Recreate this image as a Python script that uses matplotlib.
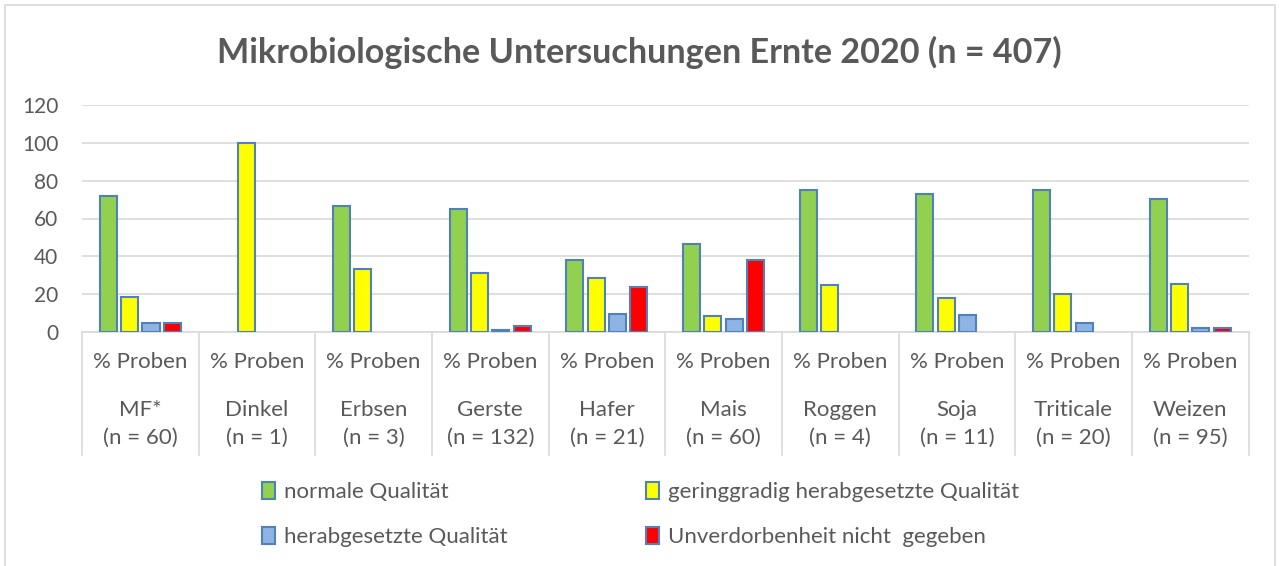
"""
Mikrobiologische Untersuchungen Ernte 2020 - grouped bars
"""
import numpy as np
import matplotlib.pyplot as plt
from matplotlib.patches import Patch, Rectangle
from matplotlib.transforms import blended_transform_factory

plt.rcParams['font.family'] = ['Lato', 'DejaVu Sans']

categories = ['MF*', 'Dinkel', 'Erbsen', 'Gerste', 'Hafer', 'Mais',
              'Roggen', 'Soja', 'Triticale', 'Weizen']
n_samples = [60, 1, 3, 132, 21, 60, 4, 11, 20, 95]
sub_label = '% Proben'

series_names = ['normale Qualität', 'geringgradig herabgesetzte Qualität',
                'herabgesetzte Qualität', 'Unverdorbenheit nicht  gegeben']
normal = [71.7, 0, 66.7, 65.2, 38.1, 46.7, 75.0, 72.7, 75.0, 70.5]
gering = [18.3, 100.0, 33.3, 31.1, 28.6, 8.3, 25.0, 18.2, 20.0, 25.3]
herab = [5.0, 0, 0, 0.8, 9.5, 6.7, 0, 9.1, 5.0, 2.1]
unverd = [5.0, 0, 0, 3.0, 23.8, 38.3, 0, 0, 0, 2.1]

colors = ['#92D050', '#FFFF00', '#8EB4E3', '#FF0000']
edge = '#4F81BD'
txt = '#595959'
grid = '#D9D9D9'

fig = plt.figure(figsize=(12.79, 5.66), dpi=100)
ax = fig.add_axes([82/1279, 1-332/566, (1248.5-82)/1279, 227/566])

x = np.arange(len(categories))
w = 0.146
step = 0.183
for k, vals in enumerate([normal, gering, herab, unverd]):
    vals = np.array(vals, dtype=float)
    keep = vals > 0  # empty cells are not drawn
    off = (k - 1.5) * step
    ax.bar(x[keep] + off, vals[keep], width=w, color=colors[k],
           edgecolor=edge, linewidth=1.5, zorder=3)

ax.set_xlim(-0.5, len(categories) - 0.5)
ax.set_ylim(0, 120)
ax.set_yticks(range(0, 121, 20))
ax.yaxis.grid(True, color=grid, linewidth=1.2, zorder=0)
ax.tick_params(axis='y', length=0, labelsize=15, labelcolor=txt, pad=17)
ax.set_xticks([])
for s in ['top', 'right', 'left']:
    ax.spines[s].set_visible(False)
ax.spines['bottom'].set_color(grid)
ax.spines['bottom'].set_linewidth(1.2)

# multi level category axis
tr = blended_transform_factory(ax.transData, ax.transAxes)
for i in range(len(categories) + 1):
    ax.plot([i - 0.5, i - 0.5], [0, -0.542], transform=tr, color=grid,
            linewidth=1.2, clip_on=False)
for i, (c, n) in enumerate(zip(categories, n_samples)):
    ax.text(i, -0.133, sub_label, transform=tr, ha='center', va='center',
            fontsize=16, color=txt)
    ax.text(i, -0.342, c, transform=tr, ha='center', va='center',
            fontsize=16, color=txt)
    ax.text(i, -0.465, '(n = %d)' % n, transform=tr, ha='center',
            va='center', fontsize=16, color=txt)

fig.text(0.5, 1-52/566, 'Mikrobiologische Untersuchungen Ernte 2020 (n = 407)',
         ha='center', va='center', fontsize=24.6, fontweight='bold', color=txt)

handles = [Patch(facecolor=colors[k], edgecolor=edge, linewidth=1.5,
                 label=series_names[k]) for k in [0, 2, 1, 3]]
fig.legend(handles=handles, ncol=2, loc='upper left',
           bbox_to_anchor=(262/1279, 1-482/566), frameon=False,
           fontsize=16, labelcolor=txt, handlelength=0.6, handleheight=0.8,
           handletextpad=0.4, columnspacing=6.2, labelspacing=1.12,
           borderaxespad=0, borderpad=0)

fig.patches.append(Rectangle((5/1279, -0.1), 1270/1279, 1.1-5/566,
                             transform=fig.transFigure, fill=False,
                             edgecolor=grid, linewidth=1.2))

fig.savefig('out.png', dpi=100)
